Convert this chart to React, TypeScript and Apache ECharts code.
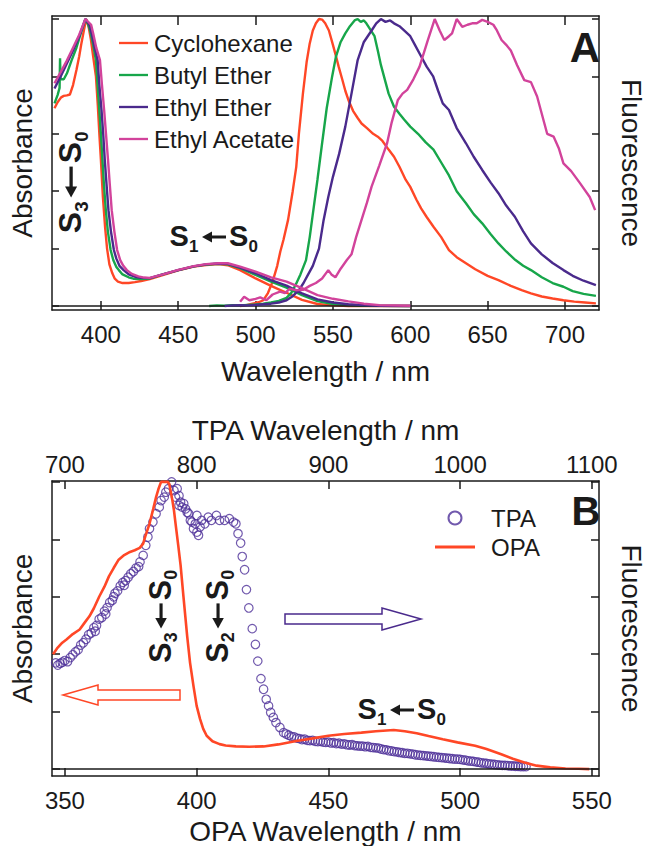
import React, { useEffect, useRef } from "react";
import * as echarts from "echarts";

const FONT = '"Liberation Sans", Arial, Helvetica, sans-serif';
const INK = "#1a1a1a";
const RED = "#ff4726";
const GREEN = "#17a64a";
const PURPLE = "#4a2a8c";
const MAGENTA = "#d2439b";
const TPA_COLOR = "#4d2f99";

// ---------- Panel A ----------
const solventNames = ["Cyclohexane", "Butyl Ether", "Ethyl Ether", "Ethyl Acetate"];
const solventColors = [RED, GREEN, PURPLE, MAGENTA];
const aTickValues = [400, 450, 500, 550, 600, 650, 700];
const intensityTicks = [0, 0.2, 0.4, 0.6, 0.8, 1];

const cyclohexaneAbs: [number, number][] = [
  [370, 0.689], [372, 0.71], [374.3, 0.727], [376, 0.732], [378, 0.734], [380, 0.737], [382, 0.77],
  [384.2, 0.822], [386, 0.87], [387.4, 0.915], [389, 0.96], [390.5, 1.0], [392, 0.975], [393.5, 0.93],
  [395, 0.87], [396.8, 0.8], [398, 0.7], [399, 0.6], [400, 0.51], [401.3, 0.38], [402.7, 0.276],
  [404, 0.2], [405.5, 0.145], [407.4, 0.114], [409, 0.095], [411, 0.085], [414, 0.08], [418, 0.08],
  [422, 0.083], [426, 0.087], [431.6, 0.094], [440, 0.108], [450, 0.124], [460, 0.137], [468, 0.143],
  [476, 0.146], [482, 0.142], [490, 0.125], [500, 0.096], [510, 0.07], [520, 0.046], [530, 0.021],
  [540, 0.007], [550, 0.002], [560, 0.0], [600, 0.0],
];
const butylEtherAbs: [number, number][] = [
  [370, 0.706], [372, 0.735], [373.3, 0.76], [373.6, 0.863], [373.9, 0.79], [376, 0.79], [378, 0.81],
  [381, 0.855], [384.2, 0.9], [387, 0.95], [390, 1.0], [391.5, 0.985], [393, 0.96], [395, 0.91],
  [396.8, 0.857], [398, 0.76], [399, 0.683], [400, 0.6], [401, 0.51], [402, 0.42], [403.2, 0.334],
  [404.5, 0.26], [406.3, 0.195], [408, 0.16], [410, 0.136], [411.6, 0.125], [414, 0.11], [417.9, 0.1],
  [421, 0.095], [426, 0.094], [431.6, 0.096], [440, 0.11], [450, 0.125], [460, 0.138], [468, 0.144],
  [476, 0.147], [482, 0.145], [490, 0.132], [500, 0.108], [510, 0.085], [520, 0.064], [530, 0.038],
  [540, 0.017], [550, 0.007], [560, 0.003], [570, 0.001], [600, 0.0],
];
const ethylEtherAbs: [number, number][] = [
  [370, 0.758], [374, 0.8], [378, 0.845], [382, 0.89], [386, 0.94], [390, 1.0], [392.6, 0.98],
  [394, 0.95], [396, 0.9], [397.9, 0.857], [399, 0.77], [400.4, 0.683], [401.5, 0.6], [402.5, 0.51],
  [403.7, 0.42], [404.9, 0.334], [406.5, 0.26], [408.4, 0.195], [410, 0.165], [412, 0.14], [414.7, 0.125],
  [418, 0.11], [422, 0.102], [426, 0.098], [431.6, 0.097], [440, 0.11], [450, 0.125], [460, 0.138],
  [468, 0.145], [476, 0.148], [482, 0.147], [490, 0.134], [500, 0.114], [510, 0.09], [520, 0.071],
  [530, 0.044], [540, 0.023], [550, 0.012], [560, 0.006], [570, 0.003], [580, 0.001], [600, 0.0],
];
const ethylAcetateAbs: [number, number][] = [
  [370, 0.776], [374, 0.815], [378, 0.855], [382, 0.9], [386, 0.945], [390, 1.0], [393.7, 0.98],
  [395, 0.95], [397, 0.9], [399.4, 0.857], [400.7, 0.77], [402.1, 0.683], [403.3, 0.6], [404.6, 0.51],
  [405.8, 0.42], [407, 0.334], [408.7, 0.26], [410.5, 0.195], [412.5, 0.16], [414.5, 0.14], [416.8, 0.125],
  [420, 0.112], [424.2, 0.103], [428, 0.099], [431.6, 0.098], [440, 0.11], [450, 0.126], [460, 0.139],
  [468, 0.146], [476, 0.149], [482, 0.149], [490, 0.137], [500, 0.12], [510, 0.1], [520, 0.085],
  [530, 0.062], [540, 0.038], [550, 0.025], [560, 0.016], [570, 0.008], [580, 0.003], [600, 0.001],
];

const cyclohexaneFluo: [number, number][] = [
  [490, 0.0], [494, 0.003], [498, 0.008], [502, 0.013], [505, 0.02], [508, 0.045], [511, 0.085],
  [514, 0.14], [516, 0.19], [518, 0.23], [521, 0.3], [524, 0.4], [526.3, 0.485], [528, 0.6],
  [530.6, 0.74], [533, 0.85], [535, 0.915], [537, 0.96], [539, 0.985], [541, 1.0], [543, 0.998],
  [545, 0.985], [547.4, 0.96], [550, 0.91], [552, 0.87], [553.7, 0.834], [556, 0.79], [558, 0.75],
  [560, 0.718], [563, 0.68], [566, 0.655], [568.5, 0.636], [572, 0.62], [576, 0.6], [579, 0.59],
  [582, 0.575], [586, 0.545], [589.5, 0.52], [593, 0.485], [597, 0.44], [600, 0.415], [604, 0.37],
  [607, 0.34], [610.6, 0.31], [615, 0.276], [620, 0.24], [625, 0.195], [630, 0.17], [636, 0.149],
  [642, 0.128], [650, 0.105], [657, 0.09], [665, 0.07], [672, 0.055], [678, 0.044], [685, 0.033],
  [692, 0.026], [699, 0.02], [706, 0.015], [713, 0.012], [720, 0.009],
];
const butylEtherFluo: [number, number][] = [
  [470, 0.0], [475, 0.002], [480, 0.001], [485, 0.003], [490, 0.002], [495, 0.004], [500, 0.005],
  [505, 0.008], [510, 0.012], [515, 0.018], [520, 0.028], [523, 0.045], [526, 0.075], [529, 0.11],
  [532.6, 0.16], [535, 0.24], [537, 0.32], [540, 0.44], [543, 0.567], [546, 0.69], [549.5, 0.8],
  [552, 0.87], [555, 0.92], [558, 0.95], [561, 0.975], [564, 0.995], [566, 1.0], [568, 0.99],
  [570, 0.995], [571.6, 0.985], [574, 0.965], [576.9, 0.94], [579, 0.89], [581, 0.84], [583, 0.8],
  [586, 0.74], [589.5, 0.694], [593, 0.67], [596, 0.65], [600, 0.625], [605, 0.6], [610, 0.57],
  [615, 0.545], [620, 0.5], [625, 0.455], [630, 0.4], [636, 0.358], [641, 0.32], [646.5, 0.288],
  [652, 0.25], [657, 0.218], [662, 0.19], [668, 0.16], [673, 0.14], [678, 0.125], [685, 0.1],
  [692, 0.08], [699, 0.067], [705, 0.052], [712, 0.042], [720, 0.035],
];
const ethylEtherFluo: [number, number][] = [
  [480, 0.0], [485, 0.002], [490, 0.003], [495, 0.002], [500, 0.004], [505, 0.006], [510, 0.008],
  [515, 0.012], [520, 0.02], [524, 0.034], [528, 0.055], [531, 0.08], [534, 0.11], [537, 0.14],
  [541, 0.2], [544, 0.3], [547, 0.38], [550, 0.45], [554, 0.53], [558, 0.625], [562, 0.74],
  [566, 0.857], [570, 0.92], [575, 0.96], [578, 0.985], [581, 1.0], [584, 0.99], [587, 0.995],
  [589.5, 0.985], [593, 0.975], [596, 0.96], [600, 0.94], [603, 0.91], [606, 0.88], [610.6, 0.834],
  [614.8, 0.8], [618, 0.75], [621, 0.706], [625, 0.683], [630, 0.62], [636, 0.567], [641, 0.52],
  [646.5, 0.474], [652, 0.43], [657, 0.393], [662, 0.35], [667.6, 0.311], [673, 0.26], [678, 0.218],
  [685, 0.18], [692, 0.15], [699, 0.125], [705, 0.105], [712, 0.088], [720, 0.073],
];
const ethylAcetateFluo: [number, number][] = [
  [490, 0.015], [492.6, 0.032], [496, 0.02], [500, 0.025], [503, 0.03], [507, 0.02], [511, 0.04],
  [515.8, 0.05], [519, 0.045], [522, 0.06], [526, 0.055], [530.6, 0.056], [535, 0.07], [539, 0.08],
  [543, 0.096], [547, 0.125], [549, 0.11], [551.6, 0.1], [555, 0.13], [559, 0.16], [562, 0.18],
  [565, 0.24], [568.5, 0.3], [572, 0.36], [575, 0.416], [580, 0.49], [585, 0.567], [588, 0.64],
  [592, 0.718], [595, 0.74], [598, 0.753], [602, 0.79], [606, 0.834], [611, 0.92], [615.8, 1.0],
  [619, 0.96], [622, 0.927], [625, 0.94], [627, 0.95], [630, 1.0], [633.6, 0.973], [637, 0.98],
  [640, 0.985], [643, 0.985], [646.5, 0.997], [650, 0.99], [653.7, 0.98], [656, 0.96], [659, 0.927],
  [662, 0.91], [665, 0.89], [669, 0.84], [673.7, 0.787], [678, 0.78], [682, 0.73], [685, 0.67],
  [688.5, 0.6], [692.7, 0.59], [696, 0.55], [699, 0.497], [704, 0.47], [709.7, 0.428], [716, 0.38],
  [719.5, 0.334],
];
const absorbanceSets = [cyclohexaneAbs, butylEtherAbs, ethylEtherAbs, ethylAcetateAbs];
const fluorescenceSets = [cyclohexaneFluo, butylEtherFluo, ethylEtherFluo, ethylAcetateFluo];

// ---------- Panel B ----------
const opaTickValues = [350, 400, 450, 500, 550];
const tpaTickValues = [700, 800, 900, 1000, 1100];

const opaAbs: [number, number][] = [
  [345.5, 0.4], [347, 0.42], [349, 0.44], [350.6, 0.451], [353, 0.47], [355.6, 0.486], [357.5, 0.51],
  [359.3, 0.532], [361, 0.56], [363, 0.6], [365, 0.635], [366.7, 0.671], [368.5, 0.7], [370.4, 0.729],
  [372.5, 0.745], [374.7, 0.756], [376.5, 0.762], [378.4, 0.77], [379.7, 0.785], [380.5, 0.81],
  [382.1, 0.854], [383.5, 0.905], [384.6, 0.947], [385.5, 0.975], [386.5, 1.0], [389, 1.0],
  [389.6, 0.993], [390.8, 0.935], [391.4, 0.9], [392, 0.854], [393, 0.78], [393.9, 0.71], [395, 0.6],
  [396.4, 0.463], [397.5, 0.37], [398.8, 0.289], [400, 0.22], [401.3, 0.174], [402.5, 0.14],
  [403.8, 0.116], [406, 0.097], [408.7, 0.087], [411, 0.082], [414.9, 0.079], [420, 0.078],
  [425.4, 0.079], [431, 0.086], [437.8, 0.098], [444, 0.107], [450, 0.116], [456, 0.122],
  [462.5, 0.127], [468, 0.132], [474.8, 0.136], [479, 0.132], [483.5, 0.125], [488, 0.115],
  [493.4, 0.104], [499, 0.093], [505.7, 0.081], [510, 0.07], [515.6, 0.052], [520, 0.036],
  [524.4, 0.023], [529, 0.012], [534.2, 0.006], [540, 0.002], [545, 0.001], [549, 0.0],
];

// TPA excitation wavelength (nm), normalised signal
const tpaPoints: [number, number][] = [
  [693, 0.37], [694.6, 0.362], [696.4, 0.368], [698, 0.372], [700, 0.378], [702, 0.374], [704, 0.388],
  [706, 0.398], [708, 0.408], [710, 0.415], [712, 0.432], [714, 0.44], [716, 0.452], [718, 0.468],
  [720, 0.474], [722, 0.492], [723, 0.48], [724, 0.5], [726, 0.522], [728, 0.528], [730, 0.55],
  [731, 0.54], [732, 0.562], [734, 0.58], [736, 0.588], [737, 0.6], [738, 0.612], [740, 0.62],
  [742, 0.638], [744, 0.65], [745, 0.64], [746, 0.656], [748, 0.668], [750, 0.68], [752, 0.688],
  [754, 0.7], [756, 0.705], [757, 0.721], [759.4, 0.744], [761.4, 0.779], [763, 0.808], [764.2, 0.837],
  [766.8, 0.86], [769.2, 0.889], [771.6, 0.912], [773, 0.935], [775.4, 0.947], [776.6, 0.964],
  [778.6, 0.976], [781, 1.0], [782.8, 0.97], [784, 0.947], [785.2, 0.976], [786.6, 0.952],
  [787.8, 0.929], [786.6, 0.918], [789, 0.912], [790.2, 0.924], [791.6, 0.906], [792.8, 0.894],
  [794, 0.889], [795.2, 0.866], [796.4, 0.86], [797.6, 0.837], [799, 0.854], [800.2, 0.883],
  [800.2, 0.825], [801.4, 0.814], [802.6, 0.843], [803.8, 0.866], [806.2, 0.854], [808.8, 0.877],
  [811.2, 0.866], [815, 0.883], [817.4, 0.866], [821.2, 0.866], [824.8, 0.872], [828, 0.86],
  [829.8, 0.854], [831.4, 0.82], [833.4, 0.787], [834.6, 0.74], [836.4, 0.694], [837.8, 0.625],
  [839.6, 0.561], [842.2, 0.489], [844.6, 0.434], [846.4, 0.376], [848.8, 0.315], [850.8, 0.278],
  [852.8, 0.243], [854.6, 0.22], [856.2, 0.197], [858.2, 0.18], [860.2, 0.162], [863.2, 0.145],
  [866, 0.127], [868, 0.122], [870, 0.118], [872, 0.113], [874, 0.112], [876, 0.108], [878, 0.106],
  [880, 0.103], [882, 0.104], [884, 0.1], [886, 0.099], [888, 0.1], [890, 0.097], [892, 0.096],
  [894, 0.097], [896, 0.094], [898, 0.093], [900, 0.094], [902, 0.091], [904, 0.092], [906, 0.089],
  [908, 0.09], [910, 0.087], [912, 0.088], [914, 0.085], [916, 0.084], [918, 0.085], [920, 0.082],
  [922, 0.081], [924, 0.08], [926, 0.08], [928, 0.078], [930, 0.079], [932, 0.076], [934, 0.075],
  [936, 0.074], [938, 0.073], [940, 0.07], [942, 0.068], [944, 0.067], [946, 0.064], [948, 0.063],
  [950, 0.061], [952, 0.06], [954, 0.058], [956, 0.057], [958, 0.055], [960, 0.055], [962, 0.053],
  [964, 0.052], [966, 0.05], [968, 0.049], [970, 0.048], [972, 0.047], [974, 0.046], [976, 0.045],
  [978, 0.044], [980, 0.043], [982, 0.042], [984, 0.041], [986, 0.04], [988, 0.039], [990, 0.038],
  [992, 0.037], [994, 0.036], [996, 0.035], [998, 0.035], [1000, 0.034], [1002, 0.032], [1004, 0.031],
  [1006, 0.029], [1008, 0.028], [1010, 0.027], [1012, 0.025], [1014, 0.024], [1016, 0.022],
  [1018, 0.021], [1020, 0.02], [1022, 0.018], [1024, 0.017], [1026, 0.016], [1028, 0.015],
  [1030, 0.014], [1032, 0.013], [1034, 0.013], [1036, 0.012], [1038, 0.011], [1040, 0.011],
  [1042, 0.01], [1044, 0.01], [1046, 0.009], [1048, 0.009], [1050, 0.009],
];

// ---------- helpers ----------
const lineStyleAxis = { color: INK, width: 1.5 };

function valueAxis(extra: any) {
  return {
    type: "value",
    axisLine: { show: true, onZero: false, lineStyle: lineStyleAxis },
    splitLine: { show: false },
    nameTextStyle: { fontSize: 28, color: INK, fontFamily: FONT },
    ...extra,
  };
}

function ticks(values: number[], len: number) {
  return { show: true, inside: true, length: len, customValues: values, lineStyle: lineStyleAxis };
}

function labels(values: number[], margin: number) {
  return {
    show: true,
    customValues: values,
    fontSize: 24,
    color: INK,
    fontFamily: FONT,
    margin,
    formatter: (v: number) => String(v),
  };
}

function transition(cx: number, cy: number, lower: string, rotation: number, arrowLen: number, scale: number) {
  const big = { fontSize: 29, fontWeight: "bold", fontFamily: FONT, fill: INK };
  const small = { fontSize: 17, fontWeight: "bold", fontFamily: FONT, fill: INK };
  const sW = 19.5;
  const subW = 10;
  const gap = 3;
  const total = sW + subW + gap + arrowLen + gap + sW + subW;
  let x = -total / 2;
  const kids: any[] = [];
  kids.push({ type: "text", style: { ...big, text: "S", x, y: 0, align: "left", verticalAlign: "middle" } });
  x += sW;
  kids.push({ type: "text", style: { ...small, text: lower, x, y: 10, align: "left", verticalAlign: "middle" } });
  x += subW + gap;
  const ax0 = x;
  const ax1 = x + arrowLen;
  kids.push({ type: "line", shape: { x1: ax0 + 8, y1: 1, x2: ax1, y2: 1 }, style: { stroke: INK, lineWidth: 3 } });
  kids.push({ type: "polygon", shape: { points: [[ax0, 1], [ax0 + 10, -4.5], [ax0 + 10, 6.5]] }, style: { fill: INK } });
  x = ax1 + gap;
  kids.push({ type: "text", style: { ...big, text: "S", x, y: 0, align: "left", verticalAlign: "middle" } });
  x += sW;
  kids.push({ type: "text", style: { ...small, text: "0", x, y: 10, align: "left", verticalAlign: "middle" } });
  return { type: "group", x: cx, y: cy, rotation, scaleX: scale, scaleY: scale, silent: true, children: kids };
}

const lineIcon = "path://M0,0H40V3.2H0Z";

export default function App() {
  const ref = useRef<HTMLDivElement>(null);

  useEffect(() => {
    if (!ref.current) return;
    const chart = echarts.init(ref.current, undefined, { renderer: "svg" });

    const series: any[] = [];
    solventNames.forEach((name, i) => {
      series.push({
        name,
        type: "line",
        xAxisIndex: 0,
        yAxisIndex: 0,
        data: absorbanceSets[i],
        showSymbol: false,
        symbol: "none",
        smooth: false,
        z: 3 + i,
        lineStyle: { color: solventColors[i], width: 2.4 },
        itemStyle: { color: solventColors[i] },
        ...(i === 0
          ? {
              markLine: {
                silent: true,
                symbol: ["none", "none"],
                label: { show: false },
                lineStyle: { color: INK, width: 1.5, type: "solid" },
                data: [{ yAxis: 0 }],
              },
            }
          : {}),
      });
    });
    solventNames.forEach((name, i) => {
      series.push({
        name,
        type: "line",
        xAxisIndex: 0,
        yAxisIndex: 1,
        data: fluorescenceSets[i],
        showSymbol: false,
        symbol: "none",
        z: 3 + i,
        lineStyle: { color: solventColors[i], width: 2.4 },
        itemStyle: { color: solventColors[i] },
      });
    });
    series.push({
      name: "TPA",
      type: "scatter",
      xAxisIndex: 3,
      yAxisIndex: 3,
      data: tpaPoints,
      symbol: "circle",
      symbolSize: 8.5,
      itemStyle: { color: "rgba(255,255,255,0)", borderColor: TPA_COLOR, borderWidth: 1.2 },
      z: 3,
    });
    series.push({
      name: "OPA",
      type: "line",
      xAxisIndex: 2,
      yAxisIndex: 2,
      data: opaAbs,
      showSymbol: false,
      symbol: "none",
      lineStyle: { color: RED, width: 2.6 },
      itemStyle: { color: RED },
      z: 4,
      markLine: {
        silent: true,
        symbol: ["none", "none"],
        label: { show: false },
        lineStyle: { color: INK, width: 1.5, type: "solid" },
        data: [{ yAxis: 0 }],
      },
    });

    const option: any = {
      animation: false,
      backgroundColor: "#ffffff",
      textStyle: { fontFamily: FONT },
      grid: [
        { left: 50, top: 16, width: 560, height: 294, containLabel: false },
        { left: 50, top: 481, width: 560, height: 296, containLabel: false },
      ],
      legend: [
        {
          data: solventNames.map((name) => ({ name, icon: lineIcon })),
          orient: "vertical",
          left: 114,
          top: 26,
          itemWidth: 29,
          itemHeight: 14,
          itemGap: 8,
          selectedMode: false,
          textStyle: { fontSize: 24, color: INK, fontFamily: FONT, padding: [0, 0, 0, 1] },
        },
        {
          data: [
            { name: "TPA", icon: "circle" },
            { name: "OPA", icon: lineIcon },
          ],
          orient: "vertical",
          left: 430,
          top: 501,
          itemWidth: 40,
          itemHeight: 13,
          itemGap: 5,
          selectedMode: false,
          textStyle: { fontSize: 24, color: INK, fontFamily: FONT, padding: [0, 0, 0, 11] },
        },
      ],
      xAxis: [
        valueAxis({
          gridIndex: 0,
          position: "bottom",
          min: 368.4,
          max: 722,
          axisTick: ticks(aTickValues, 9),
          axisLabel: labels(aTickValues, 12),
          name: "Wavelength / nm",
          nameLocation: "middle",
          nameGap: 47,
        }),
        valueAxis({
          gridIndex: 0,
          position: "top",
          min: 368.4,
          max: 722,
          axisTick: ticks(aTickValues, 9),
          axisLabel: { show: false },
        }),
        valueAxis({
          gridIndex: 1,
          position: "bottom",
          min: 345.1,
          max: 552.7,
          axisTick: ticks(opaTickValues, 8),
          axisLabel: labels(opaTickValues, 12),
          name: "OPA Wavelength / nm",
          nameLocation: "middle",
          nameGap: 41,
        }),
        valueAxis({
          gridIndex: 1,
          position: "top",
          min: 690.2,
          max: 1105.4,
          axisTick: ticks(tpaTickValues, 8),
          axisLabel: labels(tpaTickValues, 5),
          name: "TPA Wavelength / nm",
          nameLocation: "middle",
          nameGap: 37,
        }),
      ],
      yAxis: [
        valueAxis({
          gridIndex: 0,
          position: "left",
          min: -0.014,
          max: 1.0105,
          axisTick: ticks(intensityTicks, 7),
          axisLabel: { show: false },
          name: "Absorbance",
          nameLocation: "middle",
          nameRotate: 90,
          nameGap: 16,
        }),
        valueAxis({
          gridIndex: 0,
          position: "right",
          min: -0.014,
          max: 1.0105,
          axisTick: ticks(intensityTicks, 7),
          axisLabel: { show: false },
          name: "Fluorescence",
          nameLocation: "middle",
          nameRotate: -90,
          nameGap: 18,
        }),
        valueAxis({
          gridIndex: 1,
          position: "left",
          min: -0.024,
          max: 1.003,
          axisTick: ticks(intensityTicks, 8),
          axisLabel: { show: false },
          name: "Absorbance",
          nameLocation: "middle",
          nameRotate: 90,
          nameGap: 16,
        }),
        valueAxis({
          gridIndex: 1,
          position: "right",
          min: -0.024,
          max: 1.003,
          axisTick: ticks(intensityTicks, 8),
          axisLabel: { show: false },
          name: "Fluorescence",
          nameLocation: "middle",
          nameRotate: -90,
          nameGap: 18,
        }),
      ],
      series,
      graphic: [
        {
          type: "text",
          x: 585,
          y: 47,
          silent: true,
          style: { text: "A", fontSize: 42, fontWeight: "bold", fontFamily: FONT, fill: INK, align: "center", verticalAlign: "middle" },
        },
        {
          type: "text",
          x: 586,
          y: 511,
          silent: true,
          style: { text: "B", fontSize: 40, fontWeight: "bold", fontFamily: FONT, fill: INK, align: "center", verticalAlign: "middle" },
        },
        transition(214, 236, "1", 0, 24, 1),
        transition(70, 182, "3", Math.PI / 2, 28, 1.1),
        transition(402, 709, "1", 0, 24, 1),
        transition(160, 616, "3", Math.PI / 2, 24, 1.05),
        transition(217, 616, "2", Math.PI / 2, 24, 1.05),
        {
          type: "polygon",
          silent: true,
          shape: { points: [[63, 695], [98, 685], [98, 690], [180, 690], [180, 700], [98, 700], [98, 705]] },
          style: { fill: "#ffffff", stroke: RED, lineWidth: 1.5 },
        },
        {
          type: "polygon",
          silent: true,
          shape: { points: [[285, 614], [382, 614], [382, 608], [421, 619], [382, 630], [382, 624], [285, 624]] },
          style: { fill: "#ffffff", stroke: PURPLE, lineWidth: 1.5 },
        },
      ],
    };

    chart.setOption(option);
    return () => chart.dispose();
  }, []);

  return (
    <div
      ref={ref}
      style={{ position: "fixed", left: 0, top: 0, width: 653, height: 846, background: "#ffffff" }}
    />
  );
}
